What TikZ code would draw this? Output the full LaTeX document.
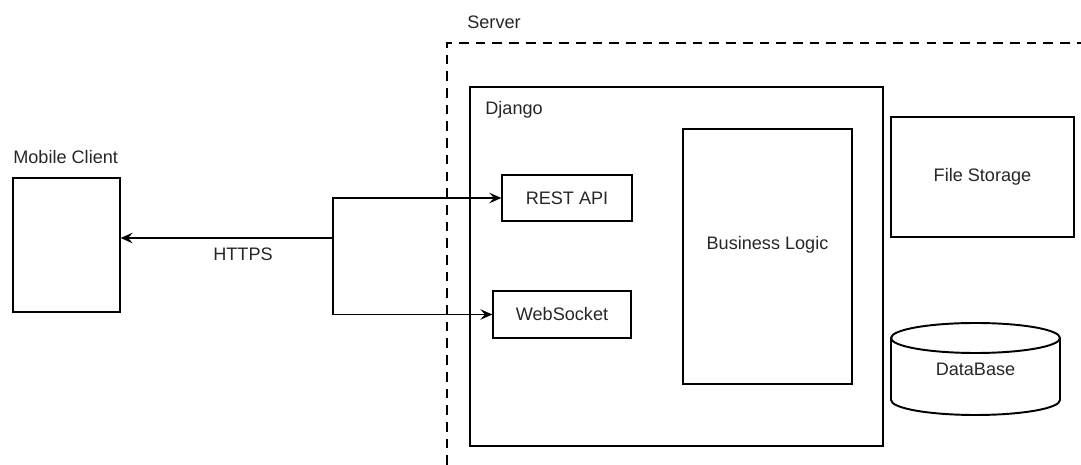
\documentclass[tikz,border=0pt]{standalone}
\usepackage{fontspec}
\setmainfont{Liberation Sans}
\usetikzlibrary{positioning,arrows.meta}

\begin{document}
\begin{tikzpicture}[
  every node/.style={font=\fontsize{10.3}{12}\selectfont,text=black!85},
  box/.style={draw,line width=0.75pt,inner sep=0pt},
  link/.style={line width=0.8pt,-{Stealth[length=2.4mm,width=2.1mm,inset=0.9mm]}},
  zone/.style={line width=0.75pt,dash pattern=on 5.5pt off 4pt}]
  \useasboundingbox (0,0) rectangle (21.62,9.3);

  % ---------------- Mobile Client ----------------
  \node[anchor=west,inner sep=0pt] (mobilelbl) at (0.26,6.16) {Mobile Client};
  \node[box,minimum width=2.14cm,minimum height=2.68cm] (mobile) at (1.33,4.40) {};

  % ---------------- Server zone ----------------
  \node[anchor=west,inner sep=0pt] (serverlbl) at (9.34,8.86) {Server};
  \draw[zone] (8.94,0) -- (8.94,8.44) -- (21.62,8.44);

  % ---------------- Django ----------------
  \node[box,minimum width=8.26cm,minimum height=7.18cm] (django) at (13.53,3.97) {};
  \node[anchor=west,inner sep=0pt] (djangolbl) at (9.70,7.10) {Django};
  \node[box,minimum width=2.6cm,minimum height=0.92cm] (rest) at (11.34,5.34) {REST API};
  \node[box,minimum width=2.76cm,minimum height=0.94cm] (ws) at (11.24,3.01) {WebSocket};
  \node[box,minimum width=3.38cm,minimum height=5.10cm,
        label={[yshift=0.23cm]center:Business Logic}] (logic) at (15.35,4.17) {};

  % ---------------- Storage ----------------
  \node[box,minimum width=3.66cm,minimum height=2.40cm] (files) at (19.65,5.76) {File Storage};
  \draw[line width=1.1pt] (17.82,2.54) -- (17.82,1.30)
     arc[start angle=180,end angle=360,x radius=1.69cm,y radius=0.3cm] -- (21.20,2.54);
  \draw[line width=1.1pt] (19.51,2.54) ellipse[x radius=1.69cm,y radius=0.3cm];
  \node (db) at (19.51,1.92) {DataBase};

  % ---------------- HTTPS links ----------------
  \coordinate (hub) at (6.66,4.54);
  \draw[link] (hub) -- (hub -| mobile.east);
  \node (https) at (4.86,4.22) {HTTPS};
  \draw[link] (hub) |- (rest);
  \draw[link] (hub) |- (ws);
\end{tikzpicture}
\end{document}
